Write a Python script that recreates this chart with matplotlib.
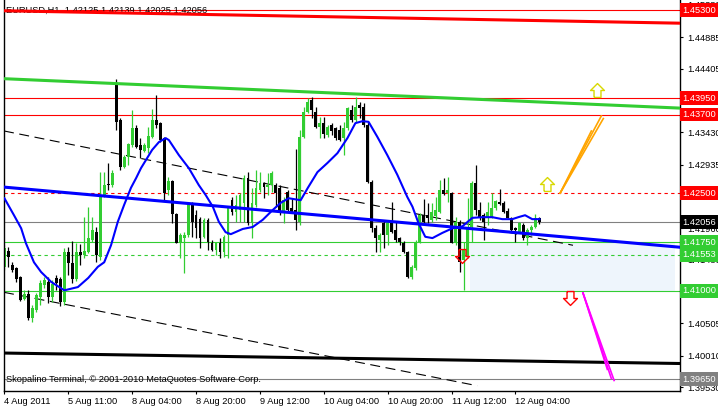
import numpy as np
import matplotlib.pyplot as plt
import matplotlib as mpl
from matplotlib.path import Path
from matplotlib.patches import Rectangle

mpl.rcParams['font.family'] = ['Liberation Sans', 'DejaVu Sans']
mpl.rcParams['font.size'] = 6.7

# EURUSD H1 candles, 4 Aug 2011 19:00 .. 12 Aug 2011 09:00
opens = [1.4137, 1.4161, 1.4140, 1.4135, 1.4121, 1.4087, 1.4095, 1.4059, 1.4071, 1.4091,
         1.4109, 1.4114, 1.4091, 1.4120, 1.4118, 1.4083, 1.4160, 1.4143, 1.4118, 1.4160,
         1.4155, 1.4160, 1.4178, 1.4190, 1.4152, 1.4247, 1.4264, 1.4262, 1.4415, 1.4362,
         1.4290, 1.4305, 1.4323, 1.4350, 1.4323, 1.4314, 1.4319, 1.4336, 1.4362, 1.4357,
         1.4334, 1.4255, 1.4268, 1.4218, 1.4173, 1.4181, 1.4186, 1.4235, 1.4216, 1.4210,
         1.4183, 1.4209, 1.4173, 1.4163, 1.4173, 1.4160, 1.4186, 1.4239, 1.4221, 1.4224,
         1.4235, 1.4273, 1.4204, 1.4232, 1.4255, 1.4265, 1.4259, 1.4262, 1.4262, 1.4258,
         1.4221, 1.4252, 1.4227, 1.4224, 1.4206, 1.4336, 1.4374, 1.4392, 1.4374, 1.4351,
         1.4357, 1.4339, 1.4354, 1.4350, 1.4346, 1.4334, 1.4350, 1.4377, 1.4362, 1.4385,
         1.4382, 1.4354, 1.4267, 1.4196, 1.4178, 1.4204, 1.4186, 1.4206, 1.4193, 1.4181,
         1.4173, 1.4160, 1.4121, 1.4135, 1.4175, 1.4216, 1.4216, 1.4209, 1.4215, 1.4221,
         1.4255, 1.4250, 1.4250, 1.4173, 1.4206, 1.4147, 1.4152, 1.4198, 1.4265, 1.4224,
         1.4216, 1.4213, 1.4213, 1.4227, 1.4236, 1.4235, 1.4222, 1.4212, 1.4196, 1.4190,
         1.4201, 1.4181, 1.4193, 1.4198, 1.42125]
highs = [1.4170, 1.4167, 1.4144, 1.4137, 1.4123, 1.4101, 1.4101, 1.4079, 1.4097, 1.4117,
         1.4121, 1.4121, 1.4117, 1.4124, 1.4121, 1.4166, 1.4167, 1.4177, 1.4173, 1.4172,
         1.4213, 1.4229, 1.4213, 1.4198, 1.4282, 1.4282, 1.4296, 1.4285, 1.4425, 1.4365,
         1.4308, 1.4327, 1.4377, 1.4354, 1.4334, 1.4327, 1.4351, 1.4379, 1.4400, 1.4359,
         1.4336, 1.4274, 1.4270, 1.4219, 1.4189, 1.4190, 1.4236, 1.4236, 1.4224, 1.4213,
         1.4212, 1.4212, 1.4178, 1.4175, 1.4181, 1.4186, 1.4230, 1.4244, 1.4247, 1.4250,
         1.4278, 1.4282, 1.4258, 1.4285, 1.4282, 1.4267, 1.4281, 1.4284, 1.4265, 1.4262,
         1.4244, 1.4255, 1.4242, 1.4317, 1.4346, 1.4382, 1.4395, 1.4397, 1.4382, 1.4366,
         1.4366, 1.4354, 1.4357, 1.4351, 1.4354, 1.4359, 1.4382, 1.4385, 1.4397, 1.4389,
         1.4388, 1.4359, 1.4270, 1.4201, 1.4189, 1.4207, 1.4209, 1.4236, 1.4206, 1.4183,
         1.4177, 1.4161, 1.4140, 1.4178, 1.4219, 1.4241, 1.4235, 1.4235, 1.4244, 1.4270,
         1.4273, 1.4274, 1.4252, 1.4213, 1.4209, 1.4175, 1.4242, 1.4268, 1.4293, 1.4236,
         1.4219, 1.4236, 1.4250, 1.4239, 1.4256, 1.4238, 1.4227, 1.4213, 1.4198, 1.4206,
         1.4204, 1.4196, 1.4201, 1.4218, 1.42139]
lows = [1.4132, 1.4137, 1.4129, 1.4114, 1.4085, 1.4086, 1.4056, 1.4053, 1.4068, 1.4079,
        1.4105, 1.4082, 1.4083, 1.4101, 1.4077, 1.4079, 1.4124, 1.4112, 1.4115, 1.4140,
        1.4150, 1.4158, 1.4175, 1.4144, 1.4147, 1.4244, 1.4255, 1.4259, 1.4346, 1.4285,
        1.4288, 1.4293, 1.4320, 1.4319, 1.4304, 1.4313, 1.4311, 1.4334, 1.4350, 1.4328,
        1.4239, 1.4247, 1.4204, 1.4173, 1.4150, 1.4128, 1.4183, 1.4183, 1.4181, 1.4166,
        1.4181, 1.4163, 1.4161, 1.4155, 1.4150, 1.4152, 1.4150, 1.4216, 1.4206, 1.4206,
        1.4206, 1.4201, 1.4181, 1.4229, 1.4252, 1.4242, 1.4247, 1.4252, 1.4229, 1.4216,
        1.4204, 1.4221, 1.4219, 1.4193, 1.4201, 1.4334, 1.4372, 1.4365, 1.4350, 1.4334,
        1.4334, 1.4336, 1.4339, 1.4331, 1.4330, 1.4308, 1.4346, 1.4359, 1.4359, 1.4365,
        1.4351, 1.4265, 1.4190, 1.4160, 1.4160, 1.4166, 1.4170, 1.4189, 1.4175, 1.4170,
        1.4158, 1.4120, 1.4119, 1.4132, 1.4173, 1.4204, 1.4204, 1.4206, 1.4209, 1.4219,
        1.4247, 1.4236, 1.4173, 1.4170, 1.4129, 1.4101, 1.4150, 1.4175, 1.4216, 1.4209,
        1.4178, 1.4201, 1.4212, 1.4224, 1.4232, 1.4219, 1.4211, 1.4190, 1.4175, 1.4189,
        1.4178, 1.4170, 1.4186, 1.4196, 1.42025]
closes = [1.4166, 1.4152, 1.4132, 1.4118, 1.4086, 1.4095, 1.4059, 1.4074, 1.4094, 1.4112,
          1.4117, 1.4091, 1.4111, 1.4112, 1.4083, 1.4160, 1.4143, 1.4118, 1.4160, 1.4155,
          1.4161, 1.4181, 1.4193, 1.4155, 1.4247, 1.4262, 1.4263, 1.4281, 1.4359, 1.4290,
          1.4305, 1.4325, 1.4350, 1.4320, 1.4316, 1.4323, 1.4337, 1.4362, 1.4354, 1.4331,
          1.4250, 1.4268, 1.4218, 1.4173, 1.4186, 1.4186, 1.4235, 1.4206, 1.4196, 1.4181,
          1.4209, 1.4175, 1.4163, 1.4173, 1.4160, 1.4183, 1.4227, 1.4221, 1.4232, 1.4247,
          1.4273, 1.4204, 1.4235, 1.4258, 1.4265, 1.4259, 1.4262, 1.4281, 1.4250, 1.4221,
          1.4239, 1.4224, 1.4221, 1.4209, 1.4336, 1.4374, 1.4389, 1.4377, 1.4351, 1.4357,
          1.4340, 1.4351, 1.4345, 1.4334, 1.4331, 1.4350, 1.4380, 1.4362, 1.4382, 1.4380,
          1.4354, 1.4267, 1.4196, 1.4181, 1.4186, 1.4186, 1.4206, 1.4190, 1.4178, 1.4175,
          1.4160, 1.4121, 1.4137, 1.4175, 1.4216, 1.4206, 1.4212, 1.4221, 1.4224, 1.4255,
          1.4248, 1.4255, 1.4173, 1.4206, 1.4144, 1.4163, 1.4198, 1.4265, 1.4224, 1.4213,
          1.4206, 1.4221, 1.4227, 1.4238, 1.4233, 1.4221, 1.4212, 1.4193, 1.4193, 1.4204,
          1.4181, 1.4193, 1.4198, 1.4212, 1.42056]

time_ticks = [0, 16, 32, 48, 64, 80, 96, 112, 128]
time_labels = ['4 Aug 2011', '5 Aug 11:00', '8 Aug 04:00', '8 Aug 20:00', '9 Aug 12:00',
               '10 Aug 04:00', '10 Aug 20:00', '11 Aug 12:00', '12 Aug 04:00']

# moving average (blue curve), read at these bars
ma_bars = [0, 2.4, 4.2, 5.4, 7.4, 9.2, 11.7, 15, 18.4, 21, 23.4, 25, 26.7, 28.4, 30, 31.7,
           33, 34.2, 37, 38.7, 40.4, 41.2, 43.7, 46.2, 48.7, 50.4, 52.2, 53.7, 55.4, 56.7,
           59.7, 62.2, 64.7, 67.2, 69.2, 71.2, 74.2, 76, 78.4, 80.9, 83.4, 85.9, 87.9, 89.7,
           91.2, 93.4, 95.9, 98.4, 100.9, 102.2, 103.7, 105.4, 107.2, 109.7, 112.2, 114.7,
           117.2, 119.7, 122.2, 124.7, 127.2, 128.7, 130.4, 132.2, 134]
ma_vals = [1.4242, 1.4216, 1.4196, 1.4173, 1.4144, 1.4129, 1.4114, 1.4101, 1.4106, 1.4120,
           1.4137, 1.4144, 1.4170, 1.4206, 1.4232, 1.4258, 1.4273, 1.4288, 1.4316, 1.4328,
           1.4334, 1.4331, 1.4308, 1.4288, 1.4262, 1.4247, 1.4229, 1.4206, 1.4190, 1.4187,
           1.4195, 1.4198, 1.4209, 1.4224, 1.4235, 1.4242, 1.4239, 1.4258, 1.4282, 1.4296,
           1.4311, 1.4334, 1.4357, 1.4360, 1.4359, 1.4336, 1.4308, 1.4278, 1.4244, 1.4229,
           1.4204, 1.4183, 1.4181, 1.4189, 1.4196, 1.4199, 1.4212, 1.4213, 1.4213, 1.4210,
           1.4210, 1.4213, 1.4216, 1.4210, 1.4210]

# trend lines: bars and prices of two anchors
red_trend = ([0, 169.2], [1.4529, 1.4510])
green_trend = ([0, 169.2], [1.4425, 1.4380])
blue_trend = ([0, 169.2], [1.4259, 1.4167])
black_trend = ([0, 169.2], [1.4005, 1.3989])
dash_upper = ([-0.1, 142.4], [1.4345, 1.4170])
dash_lower = ([-0.1, 118.4], [1.4098, 1.3955])

# horizontal levels
levels_red = [1.4530, 1.4395, 1.4370]
level_red_dash = 1.4250
level_bid = 1.42056
level_green = [1.4175, 1.4100]
level_green_dash = 1.41553
level_grey = 1.3965

# target zone
zone_bars = (116.7, 168.0)
zone_prices = (1.4100, 1.4175)

# price tags on the right scale
tag_prices = [1.4530, 1.4395, 1.4370, 1.4250, 1.42056, 1.4175, 1.41553, 1.4100, 1.3965]
tag_colors = ['#ff0000', '#ff0000', '#ff0000', '#ff0000', '#000000',
              '#32cd32', '#32cd32', '#32cd32', '#808080']
ytick_vals = [1.45380, 1.44885, 1.44405, 1.43430, 1.42935, 1.41960, 1.41480,
              1.40505, 1.40010, 1.39530]

# signal arrows
up_bars = [135.9, 148.4]
up_prices = [1.4264, 1.4408]
down_bars = [114.6, 141.7]
down_prices = [1.4154, 1.4089]

# projection fans (start, three tips)
orange_start = (139.2, 1.4250)
orange_tips = ([147.0, 149.5, 150.0], [1.4345, 1.4368, 1.4364])
magenta_start = (144.9, 1.4097)
magenta_tips = ([151.0, 152.7, 152.0], [1.3980, 1.3963, 1.3966])

fig = plt.figure(figsize=(7.18, 4.08), dpi=100)
ax = fig.add_axes([4 / 718, 17 / 408, 676 / 718, 391 / 408])
ax.set_xlim(-0.1, 169.2)
ax.set_ylim(1.39469, 1.45455)

x = np.arange(len(opens))
o = np.array(opens)
c = np.array(closes)
bull = c >= o
cols = np.where(bull, '#32cd32', '#000000')

ax.add_patch(Rectangle((zone_bars[0], zone_prices[0]), zone_bars[1] - zone_bars[0],
                       zone_prices[1] - zone_prices[0], fc='#eef5fc', ec='none', zorder=0))

for p in levels_red:
    ax.axhline(p, color='#ff0000', lw=0.8, zorder=1)
ax.axhline(level_red_dash, color='#ff0000', lw=0.8, ls=(0, (3, 3)), zorder=1)
ax.axhline(level_bid, color='#808080', lw=0.8, zorder=1)
for p in level_green:
    ax.axhline(p, color='#32cd32', lw=0.8, zorder=1)
ax.axhline(level_green_dash, color='#32cd32', lw=0.8, ls=(0, (3, 3)), zorder=1)
ax.axhline(level_grey, color='#808080', lw=0.8, zorder=1)

ax.plot(*dash_upper, color='black', lw=0.8, ls=(0, (9, 5)), zorder=1)
ax.plot(*dash_lower, color='black', lw=0.8, ls=(0, (9, 5)), zorder=1)

ax.vlines(x, lows, highs, colors=cols, lw=0.9, zorder=2)
ax.bar(x, np.maximum(np.abs(c - o), 0.00004), bottom=np.minimum(o, c), width=0.72,
       color=cols, linewidth=0, zorder=2)

ax.plot(ma_bars, ma_vals, color='#0000ff', lw=1.5, zorder=3)

ax.plot(*red_trend, color='#ff0000', lw=2.2, zorder=3)
ax.plot(*green_trend, color='#32cd32', lw=2.2, zorder=3)
ax.plot(*blue_trend, color='#0000ff', lw=2.2, zorder=3)
ax.plot(*black_trend, color='#000000', lw=2.2, zorder=3)

for bx, py in zip(*orange_tips):
    ax.plot([orange_start[0], bx], [orange_start[1], py], color='#ffa500', lw=1.2, zorder=4)
for bx, py in zip(*magenta_tips):
    ax.plot([magenta_start[0], bx], [magenta_start[1], py], color='#ff00ff', lw=1.2, zorder=4)

up_arrow = Path([(-0.25, -0.5), (0.25, -0.5), (0.25, 0.0), (0.5, 0.0), (0.0, 0.5),
                 (-0.5, 0.0), (-0.25, 0.0), (-0.25, -0.5)])
down_arrow = Path([(-0.25, 0.5), (0.25, 0.5), (0.25, 0.0), (0.5, 0.0), (0.0, -0.5),
                   (-0.5, 0.0), (-0.25, 0.0), (-0.25, 0.5)])
ax.plot(up_bars, up_prices, ls='none', marker=up_arrow, ms=10, mfc='none',
        mec='#d8d800', mew=1.0, zorder=5)
ax.plot(down_bars, down_prices, ls='none', marker=down_arrow, ms=10, mfc='none',
        mec='#ff0000', mew=1.0, zorder=5)

ax.text(0.003, 1.4530, 'EURUSD,H1  1.42125 1.42139 1.42025 1.42056',
        transform=ax.get_yaxis_transform(), va='center', ha='left', zorder=2)
ax.text(0.003, 1.3965, 'Skopalino Terminal, \u00a9 2001-2010 MetaQuotes Software Corp.',
        transform=ax.get_yaxis_transform(), va='center', ha='left', zorder=2)

ax.set_xticks(time_ticks)
ax.set_xticklabels(time_labels, ha='left')
ax.tick_params(axis='x', direction='out', length=2.5, pad=1.5, width=0.8)

ax.yaxis.tick_right()
ax.set_yticks(ytick_vals)
ax.set_yticklabels(['%.5f' % v for v in ytick_vals])
ax.tick_params(axis='y', direction='out', length=2.5, pad=2.5, width=0.8)

for p, col in zip(tag_prices, tag_colors):
    ax.text(1.0035, p, '%.5f' % p, transform=ax.get_yaxis_transform(), color='white',
            va='center', ha='left', clip_on=False, zorder=10,
            bbox=dict(boxstyle='square,pad=0.25', fc=col, ec='none'))

ax.spines['top'].set_visible(False)
for s in ['left', 'right', 'bottom']:
    ax.spines[s].set_linewidth(1.0)

fig.savefig('out.png', dpi=100)
